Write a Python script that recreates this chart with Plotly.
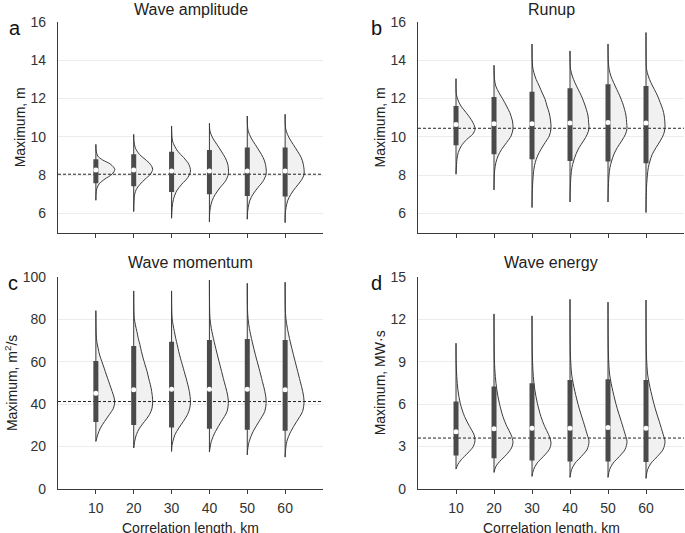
import plotly.graph_objects as go

# ---------------- data ----------------
CORR_LEN = [10, 20, 30, 40, 50, 60]

# Panel a: wave amplitude (m)
AMP_MIN = [6.69, 6.10, 5.75, 5.56, 5.70, 5.52]
AMP_MAX = [9.61, 10.13, 10.57, 10.71, 11.09, 11.18]
AMP_Q1 = [7.58, 7.42, 7.12, 7.00, 6.91, 6.88]
AMP_MED = [8.27, 8.27, 8.22, 8.22, 8.22, 8.22]
AMP_Q3 = [8.83, 9.09, 9.23, 9.32, 9.44, 9.44]
AMP_REF = 8.05
AMP_PROF_Y = [
    [7.0, 7.3, 7.55, 7.8, 8.05, 8.3, 8.57, 8.8, 9.0, 9.26],
    [6.5, 7.0, 7.26, 7.52, 7.79, 8.05, 8.31, 8.57, 8.83, 9.09, 9.44, 9.8],
    [6.3, 6.74, 7.18, 7.53, 7.88, 8.22, 8.57, 8.92, 9.26, 9.78, 10.2],
    [6.0, 6.31, 6.66, 7.0, 7.36, 7.71, 8.08, 8.57, 8.92, 9.26, 9.6, 9.95, 10.3],
    [6.0, 6.31, 6.66, 7.0, 7.36, 7.71, 8.08, 8.57, 8.92, 9.26, 9.6, 9.95, 10.3, 10.6],
    [6.0, 6.31, 6.66, 7.0, 7.36, 7.71, 8.05, 8.57, 8.92, 9.26, 9.6, 9.95, 10.3, 10.6],
]
AMP_PROF_W = [
    [0.01, 0.05, 0.18, 0.48, 0.85, 1.0, 0.78, 0.35, 0.1, 0.02],
    [0.01, 0.05, 0.14, 0.33, 0.6, 0.88, 1.0, 0.88, 0.6, 0.3, 0.08, 0.01],
    [0.03, 0.1, 0.27, 0.54, 0.86, 1.0, 0.91, 0.64, 0.32, 0.05, 0.01],
    [0.01, 0.05, 0.14, 0.31, 0.57, 0.86, 1.0, 0.97, 0.83, 0.62, 0.4, 0.17, 0.03],
    [0.01, 0.05, 0.13, 0.3, 0.57, 0.85, 1.0, 0.96, 0.84, 0.64, 0.42, 0.2, 0.05, 0.01],
    [0.01, 0.05, 0.13, 0.3, 0.56, 0.84, 1.0, 0.96, 0.85, 0.65, 0.43, 0.21, 0.06, 0.01],
]

# Panel b: runup (m)
RUN_MIN = [8.05, 7.23, 6.31, 6.60, 6.60, 6.05]
RUN_MAX = [13.04, 13.74, 14.85, 14.49, 14.85, 15.45]
RUN_Q1 = [9.56, 9.09, 8.83, 8.74, 8.72, 8.62]
RUN_MED = [10.65, 10.68, 10.68, 10.72, 10.75, 10.72]
RUN_Q3 = [11.61, 12.08, 12.36, 12.54, 12.75, 12.66]
RUN_REF = 10.45
RUN_PROF_Y = [
    [8.83, 9.18, 9.53, 9.87, 10.14, 10.4, 10.57, 10.92, 11.27, 11.61, 11.96, 12.22],
    [7.8, 8.22, 8.66, 9.0, 9.35, 9.7, 10.05, 10.43, 10.83, 11.27, 11.61, 11.96, 12.31, 12.66, 13.0],
    [7.26, 7.79, 8.31, 8.66, 9.0, 9.35, 9.7, 10.05, 10.43, 10.83, 11.27, 11.61, 11.96, 12.31, 12.66, 13.0, 13.35, 13.7],
    [7.43, 7.96, 8.39, 8.74, 9.09, 9.44, 9.79, 10.14, 10.43, 10.75, 11.09, 11.44, 11.79, 12.14, 12.48, 12.83, 13.18, 13.53],
    [7.43, 7.96, 8.39, 8.74, 9.09, 9.44, 9.79, 10.14, 10.43, 10.75, 11.09, 11.44, 11.79, 12.14, 12.48, 12.83, 13.18, 13.53, 13.9],
    [6.73, 7.43, 7.96, 8.39, 8.74, 9.09, 9.44, 9.79, 10.14, 10.48, 11.09, 11.44, 11.79, 12.14, 12.48, 12.83, 13.18, 13.53, 14.0],
]
RUN_PROF_W = [
    [0.05, 0.12, 0.28, 0.57, 0.88, 1.0, 0.97, 0.79, 0.53, 0.26, 0.09, 0.02],
    [0.01, 0.03, 0.1, 0.21, 0.4, 0.66, 0.9, 1.0, 0.97, 0.83, 0.66, 0.47, 0.26, 0.09, 0.03],
    [0.02, 0.05, 0.1, 0.17, 0.29, 0.47, 0.69, 0.91, 1.0, 0.98, 0.9, 0.79, 0.69, 0.53, 0.38, 0.22, 0.1, 0.03],
    [0.02, 0.05, 0.1, 0.19, 0.31, 0.48, 0.71, 0.91, 1.0, 0.98, 0.95, 0.86, 0.74, 0.6, 0.43, 0.26, 0.12, 0.03],
    [0.02, 0.05, 0.1, 0.19, 0.31, 0.49, 0.72, 0.92, 1.0, 0.98, 0.95, 0.87, 0.76, 0.62, 0.46, 0.3, 0.15, 0.06, 0.02],
    [0.01, 0.03, 0.07, 0.12, 0.21, 0.33, 0.53, 0.75, 0.93, 1.0, 0.96, 0.88, 0.75, 0.61, 0.44, 0.26, 0.12, 0.03, 0.01],
]

# Panel c: wave momentum (m2/s)
MOM_MIN = [22.4, 19.3, 17.7, 17.4, 16.1, 15.0]
MOM_MAX = [84.0, 93.3, 93.3, 98.4, 96.9, 97.4]
MOM_Q1 = [31.5, 30.2, 29.0, 28.4, 27.9, 27.4]
MOM_MED = [45.1, 46.7, 47.0, 47.0, 47.0, 46.7]
MOM_Q3 = [60.3, 67.4, 69.4, 70.2, 70.7, 70.2]
MOM_REF = 41.2
MOM_PROF_Y = [
    [25.6, 28.7, 31.8, 35.0, 38.1, 41.2, 44.4, 47.5, 50.6, 53.7, 56.9, 60.0, 63.1, 66.3, 69.4, 72.6],
    [22.4, 25.6, 28.7, 31.8, 35.0, 38.1, 42.0, 45.9, 49.1, 52.2, 55.3, 58.5, 61.6, 64.7, 67.9, 71.0, 74.1, 77.3, 80.4, 84.0],
    [20.5, 22.4, 25.6, 28.7, 31.8, 35.0, 38.1, 41.2, 45.9, 49.1, 52.2, 55.3, 58.5, 61.6, 64.7, 67.9, 71.0, 74.1, 77.3, 80.4, 84.0],
    [19.3, 22.4, 27.1, 31.8, 36.5, 41.5, 45.9, 50.6, 56.9, 63.2, 69.4, 75.7, 80.4, 85.0],
    [18.5, 22.4, 27.1, 31.8, 36.5, 41.5, 45.9, 50.6, 56.9, 63.2, 69.4, 75.7, 80.4, 85.0],
    [18.0, 22.4, 27.1, 31.8, 36.5, 41.5, 45.9, 50.6, 56.9, 63.2, 69.4, 75.7, 80.4, 85.0],
]
MOM_PROF_W = [
    [0.1, 0.24, 0.46, 0.71, 0.93, 1.0, 0.92, 0.8, 0.68, 0.56, 0.44, 0.32, 0.2, 0.12, 0.05, 0.02],
    [0.05, 0.14, 0.31, 0.57, 0.83, 0.97, 1.0, 0.95, 0.88, 0.79, 0.71, 0.6, 0.5, 0.41, 0.33, 0.24, 0.17, 0.09, 0.03, 0.01],
    [0.02, 0.07, 0.18, 0.38, 0.62, 0.84, 0.96, 1.0, 0.94, 0.86, 0.77, 0.67, 0.57, 0.47, 0.38, 0.3, 0.22, 0.15, 0.08, 0.03, 0.01],
    [0.03, 0.1, 0.32, 0.63, 0.93, 1.0, 0.92, 0.78, 0.6, 0.42, 0.25, 0.1, 0.03, 0.01],
    [0.02, 0.1, 0.31, 0.62, 0.92, 1.0, 0.93, 0.8, 0.62, 0.43, 0.26, 0.11, 0.04, 0.01],
    [0.02, 0.09, 0.3, 0.61, 0.92, 1.0, 0.93, 0.8, 0.62, 0.44, 0.27, 0.12, 0.04, 0.01],
]

# Panel d: wave energy (MW s)
ENE_MIN = [1.41, 1.17, 0.89, 0.82, 0.82, 0.75]
ENE_MAX = [10.3, 12.37, 12.23, 13.4, 13.2, 13.35]
ENE_Q1 = [2.37, 2.18, 2.02, 1.95, 1.95, 1.90]
ENE_MED = [4.05, 4.25, 4.3, 4.3, 4.35, 4.3]
ENE_Q3 = [6.18, 7.24, 7.48, 7.71, 7.76, 7.71]
ENE_REF = 3.6
ENE_PROF_Y = [
    [1.71, 2.06, 2.54, 3.0, 3.43, 3.83, 4.41, 5.12, 6.07, 7.0, 7.94, 8.89],
    [1.6, 1.95, 2.42, 2.9, 3.3, 3.83, 4.41, 5.12, 6.07, 7.0, 7.94, 9.12],
    [1.36, 1.83, 2.3, 2.78, 3.24, 3.83, 4.41, 5.12, 6.07, 7.0, 7.94, 9.4],
    [1.36, 1.83, 2.3, 2.8, 3.36, 3.83, 4.77, 5.71, 6.88, 8.06, 9.24, 10.5],
    [1.36, 1.83, 2.3, 2.8, 3.36, 3.83, 4.77, 5.71, 6.88, 8.06, 9.24, 10.5],
    [1.36, 1.83, 2.3, 2.8, 3.36, 3.83, 4.77, 5.71, 6.88, 8.06, 9.24, 10.5],
]
ENE_PROF_W = [
    [0.09, 0.27, 0.62, 0.91, 1.0, 0.95, 0.72, 0.45, 0.22, 0.1, 0.04, 0.01],
    [0.1, 0.3, 0.65, 0.92, 1.0, 0.9, 0.68, 0.47, 0.28, 0.15, 0.07, 0.02],
    [0.08, 0.27, 0.6, 0.9, 1.0, 0.88, 0.67, 0.47, 0.28, 0.15, 0.07, 0.02],
    [0.08, 0.27, 0.6, 0.9, 1.0, 0.91, 0.7, 0.48, 0.26, 0.09, 0.03, 0.01],
    [0.08, 0.27, 0.6, 0.9, 1.0, 0.91, 0.7, 0.48, 0.26, 0.09, 0.03, 0.01],
    [0.08, 0.27, 0.6, 0.9, 1.0, 0.91, 0.7, 0.48, 0.26, 0.09, 0.03, 0.01],
]

PANEL_TITLES = ["Wave amplitude", "Runup", "Wave momentum", "Wave energy"]
PANEL_LETTERS = ["a", "b", "c", "d"]
Y_TITLES = ["Maximum, m", "Maximum, m", "Maximum, m<sup>2</sup>/s", "Maximum, MW·s"]
X_TITLE = "Correlation length, km"

# ---------------- style ----------------
FONT = "Liberation Sans, Arial, Helvetica, sans-serif"
DARK = "#3a3a3a"
BOX = "#4a4a4a"
FILL = "#f1f1f1"
GRID = "#ececec"
HALF_W = 5.0

fig = go.Figure()


def add_panel(n, mins, maxs, q1, med, q3, prof_y, prof_w, ref):
    xa = "x" if n == 1 else f"x{n}"
    ya = "y" if n == 1 else f"y{n}"
    for i, pos in enumerate(CORR_LEN):
        # flat (left) edge of the half violin
        fig.add_trace(go.Scatter(
            x=[pos, pos], y=[mins[i], maxs[i]], mode="lines",
            line=dict(color=DARK, width=1), xaxis=xa, yaxis=ya,
            hoverinfo="skip"))
        ys = [mins[i]] + prof_y[i] + [maxs[i]]
        xs = [pos] + [pos + HALF_W * w for w in prof_w[i]] + [pos]
        fig.add_trace(go.Scatter(
            x=xs, y=ys, mode="lines", fill="tonextx", fillcolor=FILL,
            line=dict(color=DARK, width=1, shape="spline", smoothing=0.9),
            xaxis=xa, yaxis=ya, hoverinfo="skip"))
    fig.add_trace(go.Scatter(
        x=[0, 70], y=[ref, ref], mode="lines",
        line=dict(color="#222222", width=1, dash="3px,2px"),
        xaxis=xa, yaxis=ya, hoverinfo="skip"))
    for i, pos in enumerate(CORR_LEN):
        fig.add_trace(go.Scatter(
            x=[pos, pos], y=[q1[i], q3[i]], mode="lines",
            line=dict(color=BOX, width=5), xaxis=xa, yaxis=ya,
            hoverinfo="skip"))
    fig.add_trace(go.Scatter(
        x=CORR_LEN, y=med, mode="markers",
        marker=dict(color="white", size=5, line=dict(width=0)),
        xaxis=xa, yaxis=ya, hoverinfo="skip"))


add_panel(1, AMP_MIN, AMP_MAX, AMP_Q1, AMP_MED, AMP_Q3, AMP_PROF_Y, AMP_PROF_W, AMP_REF)
add_panel(2, RUN_MIN, RUN_MAX, RUN_Q1, RUN_MED, RUN_Q3, RUN_PROF_Y, RUN_PROF_W, RUN_REF)
add_panel(3, MOM_MIN, MOM_MAX, MOM_Q1, MOM_MED, MOM_Q3, MOM_PROF_Y, MOM_PROF_W, MOM_REF)
add_panel(4, ENE_MIN, ENE_MAX, ENE_Q1, ENE_MED, ENE_Q3, ENE_PROF_Y, ENE_PROF_W, ENE_REF)

X_DOM = [[0.0, 0.4233], [0.5751, 1.0], [0.0, 0.4233], [0.5751, 1.0]]
Y_DOM = [[0.549, 1.0], [0.549, 1.0], [0.0, 0.4546], [0.0, 0.4546]]
Y_RANGE = [[5, 16], [5, 16], [0, 100], [0, 15]]
Y_TICKS = [[6, 8, 10, 12, 14, 16], [6, 8, 10, 12, 14, 16],
           [0, 20, 40, 60, 80, 100], [0, 3, 6, 9, 12, 15]]

tickfont = dict(family=FONT, size=14, color="#333333")
layout = dict(
    width=685, height=533,
    margin=dict(l=58, r=1, t=22, b=44),
    paper_bgcolor="white", plot_bgcolor="white",
    showlegend=False,
    font=dict(family=FONT, size=14, color="#222222"),
)
for k in range(4):
    n = k + 1
    xkey = "xaxis" if n == 1 else f"xaxis{n}"
    ykey = "yaxis" if n == 1 else f"yaxis{n}"
    yname = "y" if n == 1 else f"y{n}"
    xname = "x" if n == 1 else f"x{n}"
    layout[xkey] = dict(
        domain=X_DOM[k], anchor=yname, range=[0, 70],
        tickvals=CORR_LEN, ticktext=[str(v) for v in CORR_LEN],
        showticklabels=(k >= 2), ticks="outside", ticklen=4, tickwidth=1,
        tickcolor=DARK, showline=True, linecolor=DARK, linewidth=1.3,
        showgrid=False, zeroline=False, tickfont=tickfont,
        ticklabelstandoff=2, automargin=False,
    )
    layout[ykey] = dict(
        domain=Y_DOM[k], anchor=xname, range=Y_RANGE[k],
        tickvals=Y_TICKS[k], ticks="", showline=True, linecolor=DARK,
        linewidth=1.3, showgrid=True, gridcolor=GRID, gridwidth=1,
        zeroline=False, tickfont=tickfont, ticklabelstandoff=8,
        automargin=False,
        title=dict(text=Y_TITLES[k], standoff=1,
                   font=dict(family=FONT, size=14, color="#222222")),
    )
fig.update_layout(**layout)

# panel titles, letters and x-axis titles
TITLE_POS = [(0.2117, 1.027), (0.7876, 1.027), (0.2117, 0.486), (0.7876, 0.486)]
LETTER_POS = [(-0.069, 0.988), (0.509, 0.988), (-0.072, 0.442), (0.508, 0.442)]
for k in range(4):
    fig.add_annotation(
        text=PANEL_TITLES[k], x=TITLE_POS[k][0], y=TITLE_POS[k][1],
        xref="paper", yref="paper", xanchor="center", yanchor="middle",
        showarrow=False, font=dict(family=FONT, size=16, color="#222222"))
    fig.add_annotation(
        text=PANEL_LETTERS[k], x=LETTER_POS[k][0], y=LETTER_POS[k][1],
        xref="paper", yref="paper", xanchor="center", yanchor="middle",
        showarrow=False, font=dict(family=FONT, size=20, color="#111111"))
for xc in (0.2117, 0.7876):
    fig.add_annotation(
        text=X_TITLE, x=xc, y=-0.083, xref="paper", yref="paper",
        xanchor="center", yanchor="middle", showarrow=False,
        font=dict(family=FONT, size=14, color="#222222"))

fig.write_html("out.html", config={"displayModeBar": False},
               post_script="document.body.style.margin='0px';")
